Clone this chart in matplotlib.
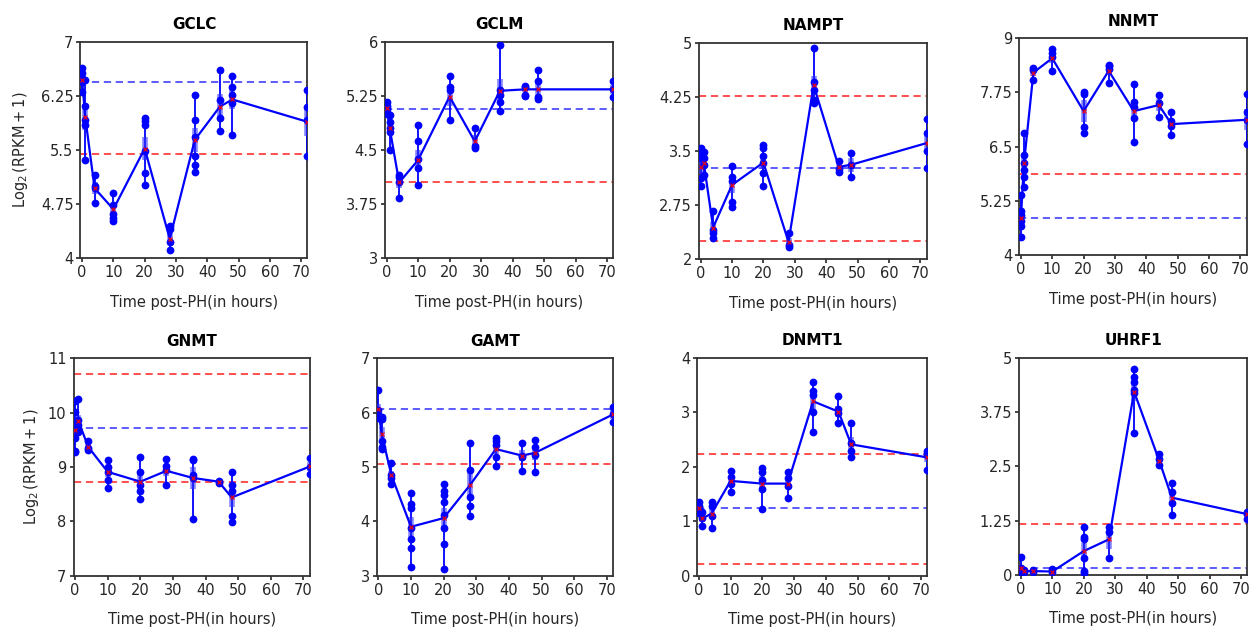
import numpy as np
import matplotlib
matplotlib.use("Agg")
import matplotlib.pyplot as plt

# ---------------- data ----------------
times = [0, 1, 4, 10, 20, 28, 36, 44, 48, 72]
xticks = [0, 10, 20, 30, 40, 50, 60, 70]

GCLC_reps = [[6.63, 6.56, 6.50, 6.44, 6.30], [6.47, 6.11, 5.92, 5.85, 5.36],
             [5.15, 5.00, 4.97, 4.76], [4.91, 4.74, 4.62, 4.56, 4.52],
             [5.94, 5.90, 5.85, 5.48, 5.18, 5.02], [4.45, 4.40, 4.23, 4.11],
             [6.26, 5.92, 5.68, 5.41, 5.29, 5.20], [6.61, 6.19, 5.94, 5.77],
             [6.52, 6.37, 6.26, 6.15, 5.71], [6.33, 6.10, 5.92, 5.41]]
GCLC_means = [6.47, 5.96, 4.97, 4.68, 5.52, 4.27, 5.64, 6.10, 6.20, 5.89]
GCLC_blue, GCLC_red = [6.446], [5.44]

GCLM_reps = [[5.16, 5.11, 5.07, 5.02, 5.00], [4.98, 4.89, 4.80, 4.75, 4.50],
             [4.15, 4.12, 4.05, 3.83], [4.85, 4.62, 4.38, 4.25, 4.02],
             [5.52, 5.37, 5.33, 4.91], [4.81, 4.55, 4.53],
             [5.95, 5.33, 5.26, 5.17, 5.04], [5.39, 5.37, 5.25, 5.26],
             [5.61, 5.46, 5.24, 5.20], [5.46, 5.34, 5.24]]
GCLM_means = [5.08, 4.80, 4.05, 4.36, 5.24, 4.62, 5.32, 5.34, 5.34, 5.34]
GCLM_blue, GCLM_red = [5.07], [4.06]

NAMPT_reps = [[3.54, 3.49, 3.40, 3.12, 3.02], [3.48, 3.40, 3.30, 3.17],
              [2.67, 2.40, 2.37, 2.30], [3.29, 3.14, 3.08, 2.79, 2.72],
              [3.59, 3.54, 3.43, 3.34, 3.19, 3.02], [2.36, 2.20, 2.17],
              [4.92, 4.45, 4.35, 4.21, 4.16], [3.36, 3.25, 3.21],
              [3.47, 3.31, 3.14], [3.95, 3.75, 3.50, 3.26]]
NAMPT_means = [3.28, 3.34, 2.44, 3.03, 3.34, 2.24, 4.41, 3.28, 3.31, 3.61]
NAMPT_blue, NAMPT_red = [3.26], [4.26, 2.26]

NNMT_reps = [[5.38, 5.02, 4.92, 4.78, 4.68, 4.42], [6.81, 6.31, 6.12, 5.96, 5.81, 5.58],
             [8.32, 8.28, 8.04], [8.75, 8.65, 8.56, 8.25],
             [7.75, 7.72, 6.96, 6.81], [8.38, 8.35, 8.30, 7.98],
             [7.94, 7.52, 7.42, 7.17, 6.60], [7.69, 7.50, 7.18],
             [7.29, 7.10, 6.98, 6.77], [7.71, 7.31, 7.12, 6.56]]
NNMT_means = [4.85, 6.12, 8.21, 8.54, 7.32, 8.25, 7.32, 7.46, 7.02, 7.12]
NNMT_blue, NNMT_red = [4.85], [5.86]

GNMT_reps = [[10.21, 10.02, 9.77, 9.53, 9.28, 9.30], [10.25, 9.87, 9.77, 9.65, 9.70],
             [9.48, 9.35, 9.31], [9.12, 9.00, 8.90, 8.76, 8.61],
             [9.19, 8.91, 8.67, 8.55, 8.42], [9.15, 9.02, 8.95, 8.67],
             [9.15, 9.12, 8.85, 8.80, 8.04], [8.75, 8.71],
             [8.90, 8.67, 8.55, 8.09, 7.99], [9.16, 9.00, 8.88]]
GNMT_means = [9.68, 9.85, 9.37, 8.91, 8.73, 8.93, 8.80, 8.73, 8.44, 9.01]
GNMT_blue, GNMT_red = [9.72], [10.72, 8.73]

GAMT_reps = [[6.41, 6.05, 5.98, 5.93, 5.90], [5.92, 5.88, 5.47, 5.37, 5.33],
             [5.07, 4.85, 4.80, 4.68], [4.53, 4.32, 4.24, 3.87, 3.67, 3.51, 3.16],
             [4.68, 4.56, 4.48, 4.35, 4.12, 3.87, 3.58, 3.12], [5.44, 4.95, 4.44, 4.28, 4.10],
             [5.54, 5.48, 5.40, 5.19, 5.01], [5.44, 5.21, 5.18, 4.93],
             [5.49, 5.37, 5.22, 4.91], [6.11, 5.97, 5.82]]
GAMT_means = [6.07, 5.61, 4.85, 3.90, 4.06, 4.66, 5.33, 5.21, 5.26, 5.97]
GAMT_blue, GAMT_red = [6.06], [5.06]

DNMT1_reps = [[1.35, 1.28, 1.22, 1.15, 1.20], [1.17, 1.05, 0.92],
              [1.35, 1.27, 1.10, 0.87], [1.93, 1.82, 1.69, 1.53],
              [1.98, 1.91, 1.76, 1.60, 1.22], [1.90, 1.80, 1.65, 1.43],
              [3.56, 3.38, 3.32, 3.00, 2.63], [3.30, 3.05, 2.98, 2.80],
              [2.80, 2.43, 2.28, 2.18], [2.28, 2.26, 2.21, 1.94]]
DNMT1_means = [1.24, 1.05, 1.14, 1.74, 1.69, 1.69, 3.20, 3.01, 2.41, 2.17]
DNMT1_blue, DNMT1_red = [1.24], [2.23, 0.22]

UHRF1_reps = [[0.42, 0.15, 0.12, 0.08, 0.10], [0.11, 0.08],
              [0.11, 0.08], [0.14, 0.08],
              [1.11, 0.88, 0.82, 0.40, 0.10, 0.05], [1.11, 1.00, 0.40],
              [4.74, 4.55, 4.45, 4.26, 4.18, 3.26], [2.78, 2.68, 2.53],
              [2.11, 1.92, 1.65, 1.37], [1.46, 1.40, 1.29]]
UHRF1_means = [0.17, 0.09, 0.09, 0.08, 0.55, 0.82, 4.22, 2.63, 1.78, 1.40]
UHRF1_blue, UHRF1_red = [0.17], [1.17]

genes = ["GCLC", "GCLM", "NAMPT", "NNMT", "GNMT", "GAMT", "DNMT1", "UHRF1"]
yticks = {
    "GCLC": [4, 4.75, 5.5, 6.25, 7], "GCLM": [3, 3.75, 4.5, 5.25, 6],
    "NAMPT": [2, 2.75, 3.5, 4.25, 5], "NNMT": [4, 5.25, 6.5, 7.75, 9],
    "GNMT": [7, 8, 9, 10, 11], "GAMT": [3, 4, 5, 6, 7],
    "DNMT1": [0, 1, 2, 3, 4], "UHRF1": [0, 1.25, 2.5, 3.75, 5],
}
ytick_labels = {
    "GCLC": ["4", "4.75", "5.5", "6.25", "7"], "GCLM": ["3", "3.75", "4.5", "5.25", "6"],
    "NAMPT": ["2", "2.75", "3.5", "4.25", "5"], "NNMT": ["4", "5.25", "6.5", "7.75", "9"],
    "GNMT": ["7", "8", "9", "10", "11"], "GAMT": ["3", "4", "5", "6", "7"],
    "DNMT1": ["0", "1", "2", "3", "4"], "UHRF1": ["0", "1.25", "2.5", "3.75", "5"],
}
panel_data = {
    "GCLC": (GCLC_reps, GCLC_means, GCLC_blue, GCLC_red),
    "GCLM": (GCLM_reps, GCLM_means, GCLM_blue, GCLM_red),
    "NAMPT": (NAMPT_reps, NAMPT_means, NAMPT_blue, NAMPT_red),
    "NNMT": (NNMT_reps, NNMT_means, NNMT_blue, NNMT_red),
    "GNMT": (GNMT_reps, GNMT_means, GNMT_blue, GNMT_red),
    "GAMT": (GAMT_reps, GAMT_means, GAMT_blue, GAMT_red),
    "DNMT1": (DNMT1_reps, DNMT1_means, DNMT1_blue, DNMT1_red),
    "UHRF1": (UHRF1_reps, UHRF1_means, UHRF1_blue, UHRF1_red),
}

# ---------------- layout (pixel boxes: left, top, right, bottom) ----------------
W, H = 1251, 629
boxes = {
    "GCLC": (80.5, 41.7, 307.5, 258.3),
    "GCLM": (385, 41.7, 613.3, 258.3),
    "NAMPT": (699, 42.7, 926.7, 259.3),
    "NNMT": (1019.3, 38.3, 1246.7, 255),
    "GNMT": (73.5, 358.3, 310, 575.7),
    "GAMT": (376.7, 358.3, 613.3, 575.7),
    "DNMT1": (697.3, 357.7, 927.3, 575.7),
    "UHRF1": (1019.3, 357.7, 1247.3, 575),
}
ylabel_x = {"GCLC": 30, "GNMT": 41}

fig = plt.figure(figsize=(W / 100, H / 100), dpi=100)
TXT = "#262626"

for g in genes:
    l, t, r, b = boxes[g]
    ax = fig.add_axes([l / W, 1 - b / H, (r - l) / W, (b - t) / H])
    reps, means, blue_lines, red_lines = panel_data[g]
    for yv in blue_lines:
        ax.axhline(yv, color="#3030ff", lw=1.3, ls=(0, (4, 2.6)), alpha=0.85, zorder=1)
    for yv in red_lines:
        ax.axhline(yv, color="#ff2020", lw=1.3, ls=(0, (4, 2.6)), alpha=0.85, zorder=1)
    for tt, vals in zip(times, reps):
        vals = np.asarray(vals)
        ax.plot([tt] * len(vals), vals, "-", color="blue", lw=1.3, zorder=3)
        ax.plot([tt] * len(vals), vals, "o", color="blue", ms=5.6, mew=0, zorder=4)
        sem = vals.std(ddof=1) / np.sqrt(len(vals)) if len(vals) > 1 else 0
        m = means[times.index(tt)]
        ax.plot([tt, tt], [m - sem, m + sem], "-", color="#3030ff", lw=4, alpha=0.6,
                solid_capstyle="butt", zorder=3.5)
    ax.plot(times, means, "-", color="blue", lw=1.6, zorder=5)
    ax.plot(times, means, "x", color="red", ms=3.5, mew=1.0, alpha=0.8, zorder=6)

    ax.set_xlim(-0.5, 72)
    ax.set_ylim(yticks[g][0], yticks[g][-1])
    ax.set_xticks(xticks)
    ax.set_yticks(yticks[g])
    ax.set_yticklabels(ytick_labels[g])
    ax.tick_params(axis="both", labelsize=10.5, colors=TXT, length=3, width=1.2,
                   direction="out", pad=2)
    for s in ax.spines.values():
        s.set_color("#333333")
        s.set_linewidth(1.3)
    ax.set_title(g, fontsize=11, fontweight="bold", pad=9, color="black")
    ax.set_xlabel("Time post-PH(in hours)", fontsize=10.5, color=TXT)
    ax.xaxis.set_label_coords(0.5, -36.5 / (b - t))
    if g in ylabel_x:
        ax.set_ylabel(r"$\mathrm{Log_2\,(RPKM+1)}$", fontsize=10.5, color=TXT)
        ax.yaxis.set_label_coords((ylabel_x[g] - l) / (r - l), 0.5)

fig.savefig("out.png", dpi=100)
